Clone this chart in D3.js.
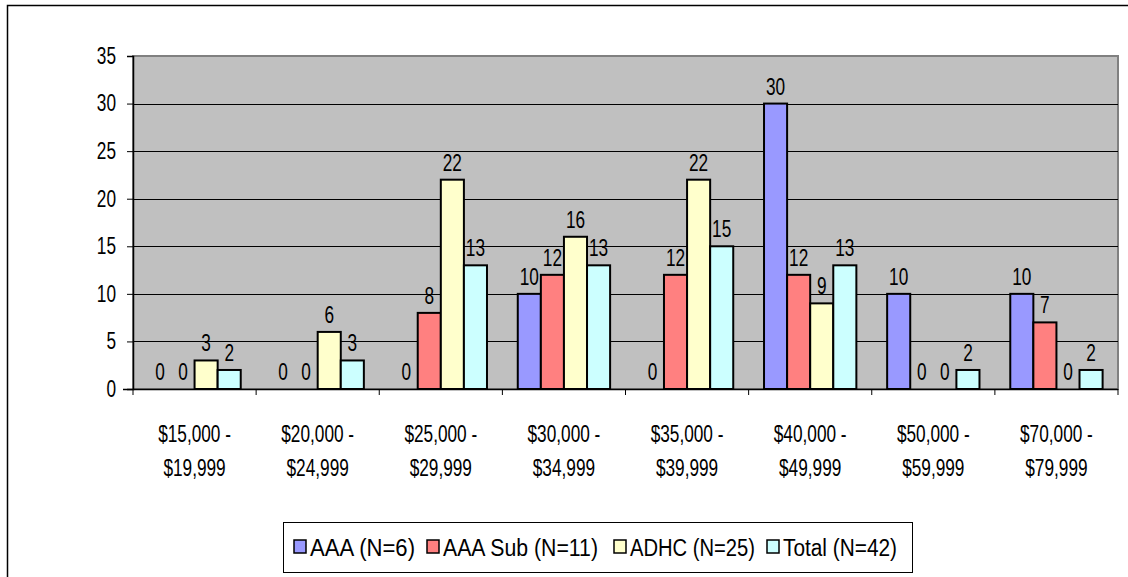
<!DOCTYPE html>
<html>
<head>
<meta charset="utf-8">
<script src="https://cdn.jsdelivr.net/npm/d3@7"></script>
<style>
  html, body { margin: 0; padding: 0; background: #fff; }
  svg { display: block; }
  text { font-family: "Liberation Sans", Arial, sans-serif; fill: #000; }
</style>
</head>
<body>
<svg id="chart" width="1128" height="577"></svg>
<script>
// Income brackets along the x axis (two-line labels)
const categories = [
  ["$15,000 -", "$19,999"],
  ["$20,000 -", "$24,999"],
  ["$25,000 -", "$29,999"],
  ["$30,000 -", "$34,999"],
  ["$35,000 -", "$39,999"],
  ["$40,000 -", "$49,999"],
  ["$50,000 -", "$59,999"],
  ["$70,000 -", "$79,999"]
];

const seriesNames = ["AAA (N=6)", "AAA Sub (N=11)", "ADHC (N=25)", "Total (N=42)"];
const seriesColors = ["#9999FF", "#FF8080", "#FFFFCC", "#CCFFFF"];

// Values per bracket, one array per series
const aaa    = [0, 0, 0, 10, 0, 30, 10, 10];
const aaaSub = [0, 0, 8, 12, 12, 12, 0, 7];
const adhc   = [3, 6, 22, 16, 22, 9, 0, 0];
const total  = [2, 3, 13, 13, 15, 13, 2, 2];

const yTicks = [0, 5, 10, 15, 20, 25, 30, 35];

const seriesValues = [aaa, aaaSub, adhc, total];

// Condensed text look: horizontal squeeze applied to labels
const SQUEEZE = 0.75;
const FS = 23;

const svg = d3.select("#chart");

// Outer chart frame
svg.append("rect")
  .attr("x", 7.5).attr("y", 5.5)
  .attr("width", 1200).attr("height", 700)
  .attr("fill", "#fff").attr("stroke", "#000").attr("stroke-width", 1.5);

const plot = { left: 133, right: 1118, top: 56, bottom: 389 };

const catKeys = categories.map((c, i) => i);
const x = d3.scaleBand().domain(catKeys).range([plot.left, plot.right]).padding(0);
const gap = x.bandwidth() * 0.25;
const xs = d3.scaleBand().domain(d3.range(seriesNames.length))
  .range([gap / 2, x.bandwidth() - gap / 2]).padding(0);
const y = d3.scaleLinear().domain([0, 35]).range([plot.bottom, plot.top]);

// Plot background
svg.append("rect")
  .attr("x", plot.left).attr("y", plot.top)
  .attr("width", plot.right - plot.left).attr("height", plot.bottom - plot.top)
  .attr("fill", "#C0C0C0").attr("stroke", "#808080").attr("stroke-width", 2);

// Horizontal gridlines
svg.append("g")
  .selectAll("line")
  .data(yTicks.filter(t => t > 0 && t < 35))
  .join("line")
  .attr("x1", plot.left).attr("x2", plot.right)
  .attr("y1", d => Math.round(y(d)) + 0.5).attr("y2", d => Math.round(y(d)) + 0.5)
  .attr("stroke", "#000").attr("stroke-width", 1);

// Bars
const groups = svg.append("g")
  .selectAll("g")
  .data(seriesValues)
  .join("g")
  .attr("fill", (d, i) => seriesColors[i]);

groups.selectAll("rect")
  .data((vals, si) => vals.map((v, ci) => ({ v, ci, si })))
  .join("rect")
  .filter(d => d.v > 0)
  .attr("x", d => x(d.ci) + xs(d.si))
  .attr("width", xs.bandwidth())
  .attr("y", d => y(d.v))
  .attr("height", d => y(0) - y(d.v))
  .attr("stroke", "#000").attr("stroke-width", 2);

// Value labels
svg.append("g")
  .selectAll("text")
  .data(seriesValues.flatMap((vals, si) => vals.map((v, ci) => ({ v, ci, si }))))
  .join("text")
  .attr("transform", d =>
    `translate(${x(d.ci) + xs(d.si) + xs.bandwidth() / 2},${y(d.v) - 9}) scale(${SQUEEZE},1)`)
  .attr("text-anchor", "middle")
  .attr("font-size", FS)
  .text(d => d.v);

// Y axis
const yAxis = d3.axisLeft(y).tickValues(yTicks).tickSize(6).tickPadding(12);
const yg = svg.append("g").attr("transform", `translate(${plot.left},0)`).call(yAxis);
yg.select(".domain").attr("stroke", "#000").attr("stroke-width", 1.5);
yg.selectAll(".tick line").attr("stroke", "#000");
yg.selectAll(".tick text")
  .attr("font-size", FS).attr("font-family", null).attr("fill", "#000")
  .attr("x", -17 / SQUEEZE)
  .attr("transform", `scale(${SQUEEZE},1)`);

// X axis with ticks at bracket boundaries
const xg = svg.append("g").attr("transform", `translate(0,${plot.bottom})`);
xg.append("line")
  .attr("x1", plot.left - 10).attr("x2", plot.right)
  .attr("y1", 0.5).attr("y2", 0.5)
  .attr("stroke", "#000").attr("stroke-width", 1.5);
xg.selectAll("line.tk")
  .data(catKeys.concat([categories.length]))
  .join("line")
  .attr("class", "tk")
  .attr("x1", d => d < categories.length ? x(d) : plot.right)
  .attr("x2", d => d < categories.length ? x(d) : plot.right)
  .attr("y1", 0).attr("y2", 6)
  .attr("stroke", "#000");
const xl = xg.selectAll("text.cat")
  .data(categories)
  .join("text")
  .attr("class", "cat")
  .attr("text-anchor", "middle")
  .attr("font-size", FS)
  .attr("transform", (d, i) => `translate(${x(i) + x.bandwidth() / 2},0) scale(${SQUEEZE},1)`);
xl.append("tspan").attr("x", 0).attr("y", 53).text(d => d[0]);
xl.append("tspan").attr("x", 0).attr("y", 87).text(d => d[1]);

// Legend
const legend = svg.append("g");
legend.append("rect")
  .attr("x", 283.5).attr("y", 522.5).attr("width", 629).attr("height", 50)
  .attr("fill", "#fff").attr("stroke", "#000").attr("stroke-width", 1);
const legendX = [294, 427, 614, 767];
const legendTextW = [105, 155, 125, 114];
const li = legend.selectAll("g.item")
  .data(seriesNames)
  .join("g")
  .attr("class", "item")
  .attr("transform", (d, i) => `translate(${legendX[i]},0)`);
li.append("rect")
  .attr("x", 0).attr("y", 540).attr("width", 12).attr("height", 13)
  .attr("fill", (d, i) => seriesColors[i]).attr("stroke", "#000").attr("stroke-width", 1.5);
li.append("text")
  .attr("x", 16).attr("y", 556)
  .attr("font-size", 23)
  .attr("textLength", (d, i) => legendTextW[i])
  .attr("lengthAdjust", "spacingAndGlyphs")
  .text(d => d);
</script>
</body>
</html>
